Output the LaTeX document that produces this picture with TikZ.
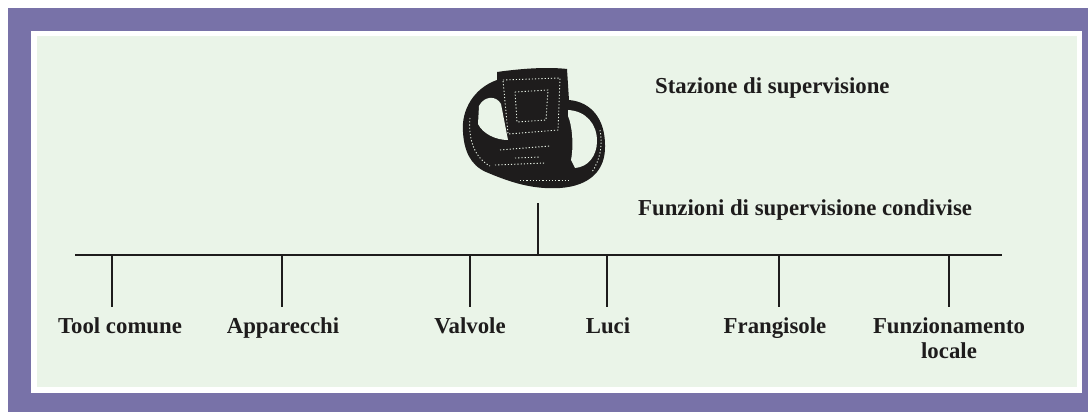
\documentclass[tikz,border=0pt]{standalone}
\usepackage{fontspec}
\setmainfont{Liberation Serif}
\usepackage{xcolor}

\definecolor{frame}{HTML}{7872A8}
\definecolor{paper}{HTML}{EAF4E8}
\definecolor{ink}{HTML}{1E1C1C}

\tikzset{
  lbl/.style={font=\bfseries\fontsize{22.8}{25}\selectfont, text=ink, align=center, inner sep=0pt},
  wire/.style={draw=ink, line width=2.6pt},
  speck/.style={draw=paper, line width=0.9pt, dash pattern=on 1.2pt off 2pt}
}

\begin{document}
\begin{tikzpicture}[x=1pt,y=-1pt]

	\useasboundingbox (0,0) rectangle (1088,412);
	\fill[white] (0,0) rectangle (1088,412);
	\fill[frame] (8,8) rectangle (1088,412);
	\fill[white] (31,31) rectangle (1082,393);
	\fill[paper] (37,36) rectangle (1077,387);

	% computer
	\fill[ink] (497,72) .. controls (525,68) and (550,67) .. (567,69)
		-- (569,100) .. controls (592,102) and (605,120) .. (605,145)
		.. controls (606,170) and (590,186) .. (560,188)
		.. controls (530,190) and (505,180) .. (486,172)
		.. controls (470,165) and (464,150) .. (463,132)
		.. controls (461,110) and (474,88) .. (497,80) -- cycle;
	\fill[paper] (479,106) .. controls (484,96) and (496,95) .. (501,104)
		-- (508,140) .. controls (496,140) and (483,134) .. (478,124) -- cycle;
	\fill[paper] (568,110) .. controls (586,111) and (597,124) .. (597,141)
		.. controls (597,156) and (588,167) .. (575,168)
		-- (571,160) .. controls (574,145) and (572,125) .. (568,116) -- cycle;
	\draw[speck] (503,80) -- (560,78) -- (558,130) -- (508,134) -- cycle;
	\draw[speck] (515,92) -- (548,90) -- (546,120) -- (517,122) -- cycle;
	\draw[speck] (500,150) -- (550,146);
	\draw[speck] (515,158) -- (540,157);
	\draw[speck] (495,165) -- (545,163);
	\draw[speck] (470,118) .. controls (468,140) and (475,158) .. (490,166);
	\draw[speck] (600,130) .. controls (603,145) and (600,160) .. (592,172);
	\draw[speck] (520,180) -- (570,180);

	\node[lbl, anchor=base west] (stazione) at (655,94) {Stazione di supervisione};
	\node[lbl, anchor=base west] (funzioni) at (638,215) {Funzioni di supervisione condivise};

	% bus and stem
	\coordinate (busL) at (75,255);
	\coordinate (busR) at (1002,255);
	\coordinate (stem) at (538,203);
	\coordinate (b-stem) at (538,255);
	\draw[wire] (busL) -- (busR);
	\draw[wire] (stem) -- (b-stem);

	% drops and labels
	\foreach \x/\lx/\name/\txt in {112/120/tool/Tool comune, 282/283/app/Apparecchi,
		470/470/valv/Valvole, 607/608/luci/Luci, 779/775/fran/Frangisole,
		949/949/loc/Funzionamento\\locale}
	{
		\coordinate (b-\name) at (\x,255);
		\coordinate (d-\name) at (\x,307);
		\draw[wire] (b-\name) -- (d-\name);
		\node[lbl, anchor=north] (\name) at (\lx,317) {\txt};
	}

\end{tikzpicture}
\end{document}
